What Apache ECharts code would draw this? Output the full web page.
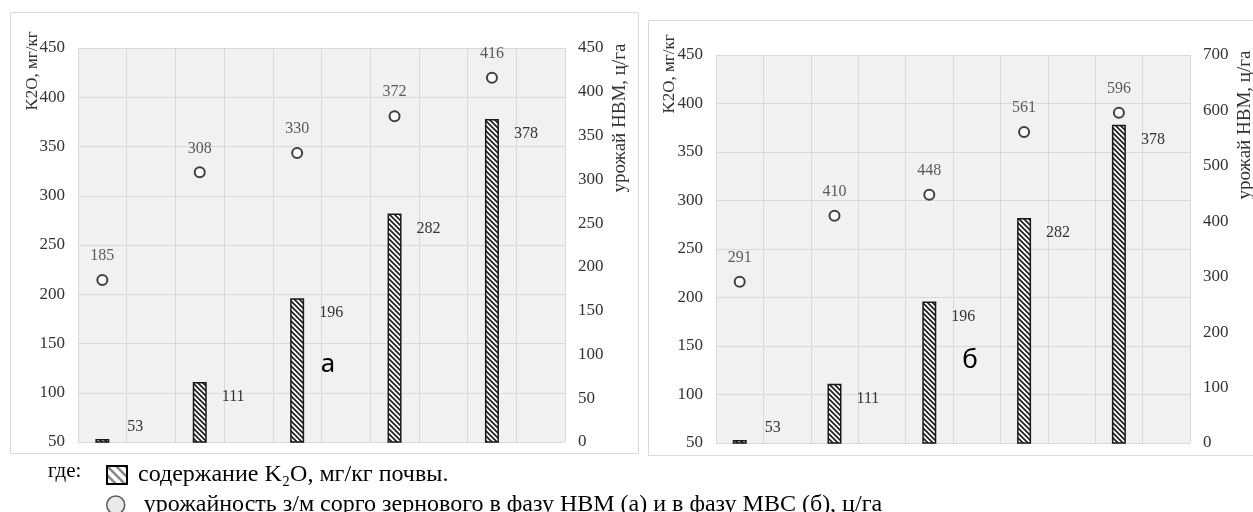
<!DOCTYPE html>
<html>
<head>
<meta charset="utf-8">
<script src="https://cdn.jsdelivr.net/npm/echarts@6.0.0/dist/echarts.min.js"></script>
<style>
  html, body { margin: 0; padding: 0; background: #fff; }
  #chart { width: 1253px; height: 512px; }
</style>
</head>
<body>
<div id="chart"></div>
<script>
  // содержание K2O в почве по вариантам, мг/кг
  const k2oValues = [53, 111, 196, 282, 378];
  // урожайность, ц/га: (а) фаза НВМ, (б) фаза МВС
  const yieldNVM = [185, 308, 330, 372, 416];
  const yieldMVS = [291, 410, 448, 561, 596];
  // 5 вариантов, каждый занимает две клетки сетки
  const variants = ['1', '2', '3', '4', '5'];
  const slots = variants.flatMap(v => [v, v + '-']);

  const barName = 'содержание K₂O, мг/кг почвы.';
  const dotName = 'урожайность з/м сорго зернового в фазу НВМ (а) и в фазу МВС (б), ц/га';

  const serif = 'Liberation Serif';
  const labelColor = '#333';
  const gridColor = '#d9d9d9';

  // штриховка для столбиков
  function hatch(size, lineW, color, bg) {
    let c = document.createElement('canvas');
    c.width = size;
    c.height = size;
    let ctx = c.getContext('2d');
    ctx.fillStyle = bg;
    ctx.fillRect(0, 0, size, size);
    ctx.strokeStyle = color;
    ctx.lineWidth = lineW;
    ctx.beginPath();
    ctx.moveTo(-2, -2); ctx.lineTo(size + 2, size + 2);
    ctx.moveTo(-2, size - 2); ctx.lineTo(2, size + 2);
    ctx.moveTo(size - 2, -2); ctx.lineTo(size + 2, 2);
    ctx.stroke();
    return c;
  }
  const barHatch = hatch(5, 1.8, '#222', '#fff');
  const legendHatch = hatch(9, 2.5, '#888', '#fff');

  const spread = arr => arr.flatMap(v => [v, '-']);
  const barData = k2oValues.flatMap((v, i) => [
    i === 0 ? { value: v, label: { position: [32, -20] } } : v, '-'
  ]);

  function xAxis(gridIndex) {
    return {
      type: 'category', gridIndex: gridIndex, data: slots,
      axisLine: { show: false }, axisTick: { show: false }, axisLabel: { show: false },
      splitLine: { show: true, lineStyle: { color: gridColor, width: 1 } }
    };
  }
  function yAxis(gridIndex, pos, min, max, interval, split) {
    return {
      type: 'value', gridIndex: gridIndex, position: pos, min: min, max: max, interval: interval,
      axisLine: { show: false }, axisTick: { show: false },
      axisLabel: { fontFamily: serif, fontSize: 17, color: labelColor, margin: 13 },
      splitLine: { show: split, lineStyle: { color: gridColor, width: 1 } }
    };
  }
  function barSeries(axisIdx) {
    return {
      name: barName, type: 'bar', xAxisIndex: axisIdx, yAxisIndex: axisIdx * 2,
      barWidth: 14, data: barData,
      itemStyle: { color: { image: barHatch, repeat: 'repeat' }, borderColor: '#1a1a1a', borderWidth: 1.5 },
      label: { show: true, position: [29, 7], fontFamily: serif, fontSize: 16, color: labelColor }
    };
  }
  function dotSeries(axisIdx, values) {
    return {
      name: dotName, type: 'scatter', xAxisIndex: axisIdx, yAxisIndex: axisIdx * 2 + 1,
      symbol: 'circle', symbolSize: 10, data: spread(values),
      itemStyle: { color: '#fff', borderColor: '#111', borderWidth: 2 },
      label: { show: true, position: 'top', distance: 10, fontFamily: serif, fontSize: 16, color: labelColor }
    };
  }
  function vText(x, y, text, size) {
    return {
      type: 'text', x: x, y: y, rotation: Math.PI / 2,
      style: { text: text, font: size + 'px "' + serif + '"', fill: labelColor, align: 'center', verticalAlign: 'middle' }
    };
  }
  function legend(top, item, pad) {
    return {
      orient: 'vertical', left: 101, top: top,
      itemWidth: 20, itemHeight: 18,
      selectedMode: false,
      textStyle: { fontFamily: serif, fontSize: 24, color: '#000', padding: [0, 0, 0, pad] },
      data: [item]
    };
  }

  let myChart = echarts.init(document.getElementById('chart'));
  myChart.setOption({
    backgroundColor: '#fff',
    animation: false,
    grid: [
      { left: 78, top: 48, width: 487, height: 394, show: true, backgroundColor: '#f1f1f1', borderWidth: 0 },
      { left: 716, top: 55, width: 474, height: 388, show: true, backgroundColor: '#f1f1f1', borderWidth: 0 }
    ],
    xAxis: [xAxis(0), xAxis(1)],
    yAxis: [
      yAxis(0, 'left', 50, 450, 50, true),
      yAxis(0, 'right', 0, 450, 50, false),
      yAxis(1, 'left', 50, 450, 50, true),
      yAxis(1, 'right', 0, 700, 100, false)
    ],
    legend: [
      legend(458, { name: barName, icon: 'rect', itemStyle: { color: { image: legendHatch, repeat: 'repeat' }, borderColor: '#000', borderWidth: 2 } }, 6),
      legend(488, { name: dotName, icon: 'circle', itemStyle: { color: '#e3e3e3', borderColor: '#333', borderWidth: 1.5 } }, 13)
    ],
    graphic: [
      { type: 'rect', z: -10, shape: { x: 10.5, y: 12.5, width: 628, height: 441 }, style: { fill: null, stroke: gridColor, lineWidth: 1 } },
      { type: 'rect', z: -10, shape: { x: 648.5, y: 20.5, width: 610, height: 435 }, style: { fill: null, stroke: gridColor, lineWidth: 1 } },
      vText(33, 71, 'K2O, мг/кг', 17),
      vText(620, 118, 'урожай НВМ, ц/га', 19),
      vText(670, 74, 'K2O, мг/кг', 17),
      vText(1245, 125, 'урожай НВМ, ц/га', 19),
      { type: 'text', x: 328, y: 365, style: { text: 'а', font: '26px "Noto Sans"', fill: '#000', align: 'center', verticalAlign: 'middle' } },
      { type: 'text', x: 970, y: 361, style: { text: 'б', font: '26px "Noto Sans"', fill: '#000', align: 'center', verticalAlign: 'middle' } },
      { type: 'text', x: 48, y: 471, style: { text: 'где:', font: '21px "' + serif + '"', fill: '#000', align: 'left', verticalAlign: 'middle' } }
    ],
    series: [
      barSeries(0), dotSeries(0, yieldNVM),
      barSeries(1), dotSeries(1, yieldMVS)
    ]
  });
</script>
</body>
</html>
